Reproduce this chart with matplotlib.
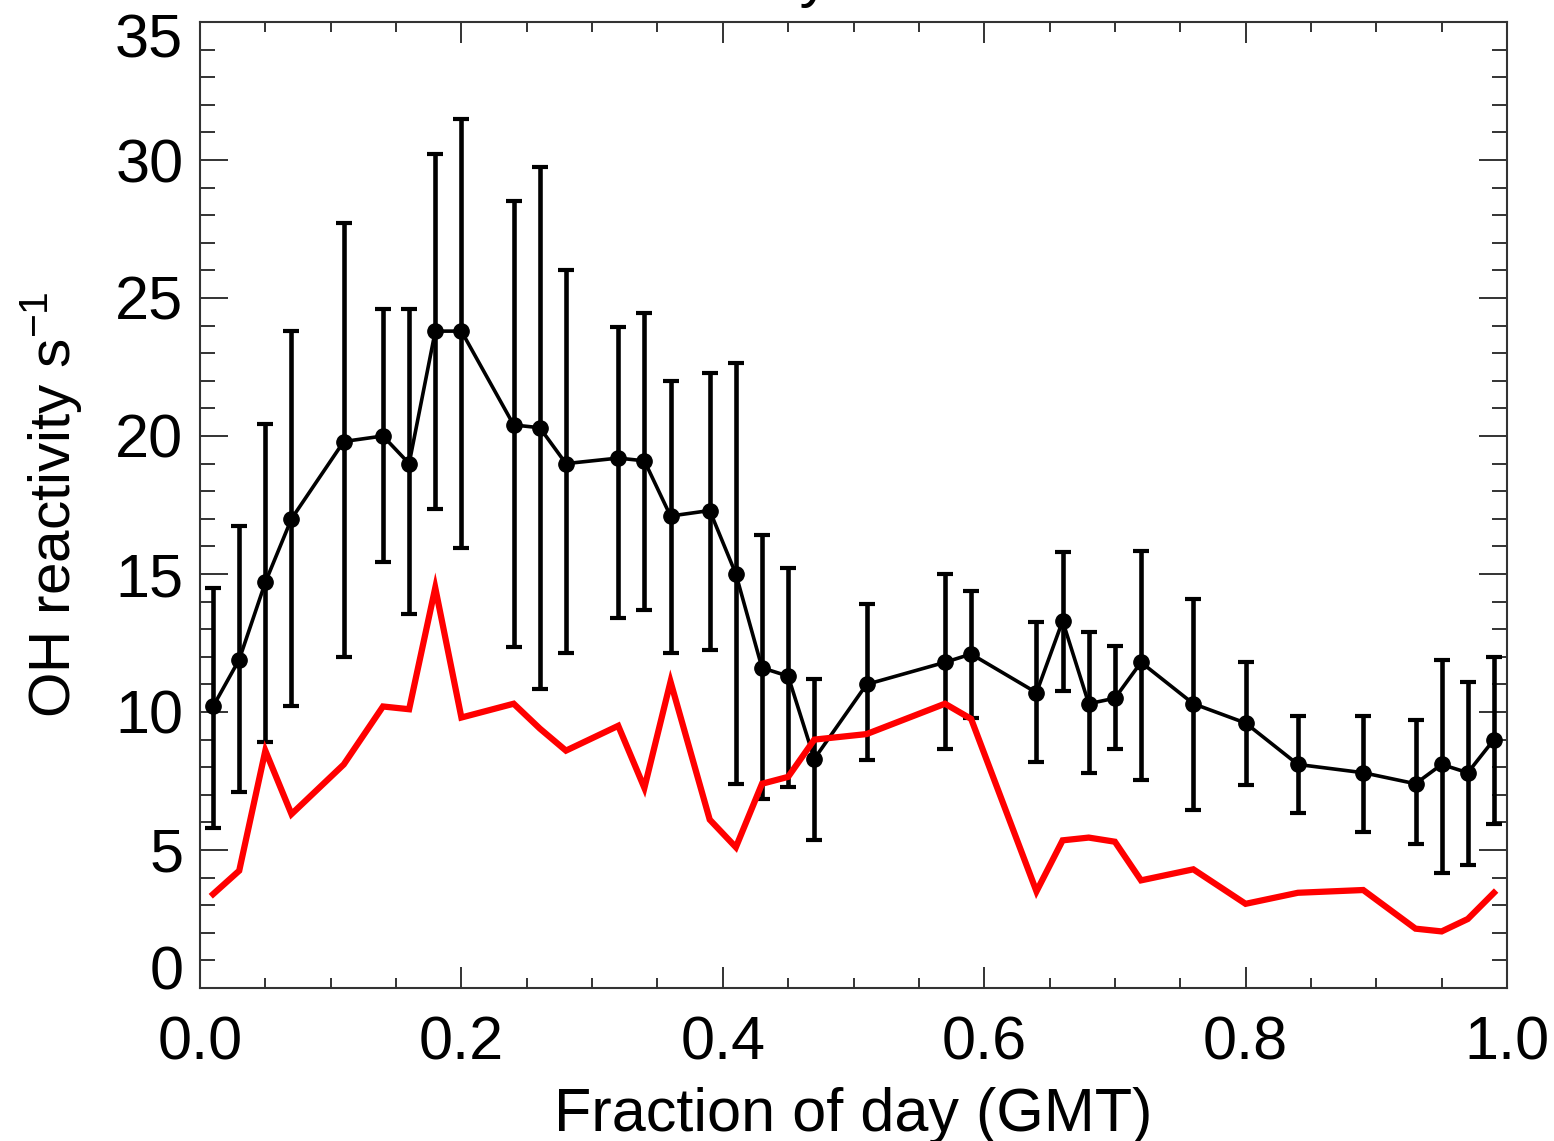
import matplotlib
matplotlib.use("Agg")
import matplotlib.pyplot as plt
import matplotlib.transforms as mtransforms
from matplotlib.ticker import MultipleLocator
import numpy as np

plt.rcParams['font.family'] = ['Liberation Sans', 'DejaVu Sans']
plt.rcParams['mathtext.fontset'] = 'custom'
plt.rcParams['mathtext.rm'] = 'Liberation Sans'

# Measured OH reactivity (black, with error bars)
frac_day = [0.01, 0.03, 0.05, 0.07, 0.11, 0.14, 0.16, 0.18, 0.20, 0.24, 0.26, 0.28,
            0.32, 0.34, 0.36, 0.39, 0.41, 0.43, 0.45, 0.47, 0.51, 0.57, 0.59,
            0.64, 0.66, 0.68, 0.70, 0.72, 0.76, 0.80, 0.84, 0.89, 0.93, 0.95, 0.97, 0.99]
measured = [10.2, 11.9, 14.7, 17.0, 19.8, 20.0, 19.0, 23.8, 23.8, 20.4, 20.3, 19.0,
            19.2, 19.1, 17.1, 17.3, 15.0, 11.6, 11.3, 8.3, 11.0, 11.8, 12.1,
            10.7, 13.3, 10.3, 10.5, 11.8, 10.3, 9.6, 8.1, 7.8, 7.4, 8.1, 7.8, 9.0]
err_upper = [14.5, 16.75, 20.45, 23.8, 27.7, 24.6, 24.6, 30.2, 31.5, 28.5, 29.75, 26.0,
             23.95, 24.45, 22.0, 22.3, 22.65, 16.4, 15.2, 11.2, 13.9, 15.0, 14.4,
             13.25, 15.8, 12.9, 12.4, 15.85, 14.1, 11.8, 9.85, 9.85, 9.7, 11.9, 11.1, 12.0]
err_lower = [5.8, 7.1, 8.9, 10.2, 12.0, 15.45, 13.55, 17.35, 15.95, 12.35, 10.85, 12.15,
             13.4, 13.7, 12.15, 12.25, 7.4, 6.85, 7.3, 5.35, 8.25, 8.65, 9.8,
             8.2, 10.75, 7.8, 8.65, 7.55, 6.45, 7.35, 6.35, 5.65, 5.2, 4.15, 4.45, 5.95]

# Modelled OH reactivity (red line)
model = [3.4, 4.25, 8.6, 6.3, 8.1, 10.2, 10.1, 14.5, 9.8, 10.3, 9.4, 8.6,
         9.5, 7.25, 11.1, 6.1, 5.1, 7.4, 7.65, 9.0, 9.2, 10.3, 9.75,
         3.5, 5.35, 5.45, 5.3, 3.9, 4.3, 3.05, 3.45, 3.55, 2.15, 2.05, 2.5, 3.45]

x_ticks = [0.0, 0.2, 0.4, 0.6, 0.8, 1.0]
y_ticks = [0, 5, 10, 15, 20, 25, 30, 35]

W, H = 1554, 1141
fig = plt.figure(figsize=(W / 100, H / 100), dpi=100)
ax = fig.add_axes([200 / W, 1 - 988 / H, (1507 - 200) / W, (988 - 22) / H])

meas = np.array(measured)
yerr = [meas - np.array(err_lower), np.array(err_upper) - meas]
ax.errorbar(frac_day, measured, yerr=yerr, fmt='none', ecolor='black',
            elinewidth=3.3, capsize=5.5, capthick=3.0, zorder=2)
ax.plot(frac_day, measured, color='black', lw=2.6, marker='o', ms=11, zorder=3)
ax.plot(frac_day, model, color='#ff0000', lw=4.5, zorder=4, solid_joinstyle='miter')

ax.set_xlim(0, 1)
ax.set_ylim(0, 35)
ax.set_xticks(x_ticks)
ax.set_xticklabels([f"{v:.1f}" for v in x_ticks])
ax.set_yticks(y_ticks)
ax.set_yticklabels([str(v) for v in y_ticks])
ax.xaxis.set_minor_locator(MultipleLocator(0.05))
ax.yaxis.set_minor_locator(MultipleLocator(1))

spine_col = '#333333'
for s in ax.spines.values():
    s.set_linewidth(1.5)
    s.set_color(spine_col)

ax.tick_params(axis='x', which='major', direction='in', length=15, width=1.4,
               top=True, bottom=True, color=spine_col, labelsize=44, pad=20)
ax.tick_params(axis='x', which='minor', direction='in', length=7.5, width=1.4,
               top=True, bottom=True, color=spine_col)
ax.tick_params(axis='y', which='major', direction='in', length=20, width=1.4,
               left=True, right=True, color=spine_col, labelsize=44, pad=12)
ax.tick_params(axis='y', which='minor', direction='in', length=11, width=1.4,
               left=True, right=True, color=spine_col)

# IDL-style: first and last y labels pulled inside the axis range
ylabels = ax.get_yticklabels()
ylabels[0].set_transform(ylabels[0].get_transform() +
                         mtransforms.ScaledTranslation(0, 21 / 100, fig.dpi_scale_trans))
ylabels[-1].set_transform(ylabels[-1].get_transform() +
                          mtransforms.ScaledTranslation(0, -13 / 100, fig.dpi_scale_trans))

ax.set_xlabel('Fraction of day (GMT)', fontsize=44, labelpad=10)
ax.set_ylabel(r'OH reactivity s$^{\mathregular{-1}}$', fontsize=42, labelpad=22)

# Title mostly cut off by the top of the image (only a descender is visible)
fig.text(830 / W, 1 + 0.004, 'OH reactivity', ha='right', va='baseline',
         fontsize=44)

fig.savefig('out.png', dpi=100)
